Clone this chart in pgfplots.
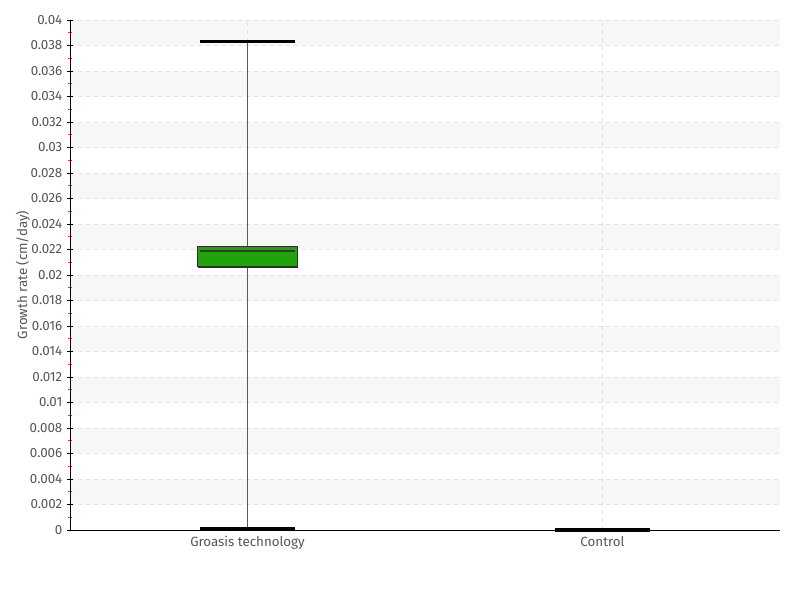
\documentclass[border=0pt]{standalone}
\usepackage{fontspec}
\setmainfont{Fira Sans}
\usepackage{pgfplots}
\pgfplotsset{compat=1.18}
\definecolor{txt}{HTML}{555555}
\definecolor{band}{HTML}{F7F7F7}
\definecolor{gridc}{HTML}{E2E2E2}
\definecolor{boxgreen}{HTML}{21A30C}
\definecolor{boxedge}{HTML}{2A3327}
\definecolor{whisk}{HTML}{5A5A5A}
\begin{document}
\begin{tikzpicture}
\begin{axis}[
  set layers,
  clip=false,
  scale only axis,
  width=532.5pt, height=382.5pt,
  xmin=-0.5, xmax=1.5, ymin=0, ymax=0.04,
  axis x line*=bottom, axis y line*=left,
  axis line style={black, line width=0.7pt},
  xtick={0,1}, xticklabels={Groasis technology, Control},
  ytick={0,0.002,0.004,0.006,0.008,0.01,0.012,0.014,0.016,0.018,0.02,0.022,0.024,0.026,0.028,0.03,0.032,0.034,0.036,0.038,0.04},
  minor y tick num=1,
  scaled y ticks=false,
  /pgf/number format/fixed, /pgf/number format/precision=3,
  /pgf/number format/assume math mode=true,
  tick label style={font=\fontsize{10}{12}\selectfont, text=txt},
  x tick label style={yshift=1pt},
  ylabel={Growth rate (cm/day)},
  ylabel style={font=\fontsize{10}{12}\selectfont, text=txt, yshift=-7pt},
  grid=major,
  major grid style={gridc, dashed, line width=0.6pt},
  tick align=center,
  major tick length=4.5pt,
  minor tick length=3.5pt,
  y tick style={black, line width=0.6pt},
  minor y tick style={red!85, line width=0.7pt},
  x tick style={draw=none},
]
% alternating background bands
\addplot[on layer=axis background, fill=band, draw=none, forget plot] coordinates {(-0.5,0.002) (1.5,0.002) (1.5,0.004) (-0.5,0.004) (-0.5,0.002)};
\addplot[on layer=axis background, fill=band, draw=none, forget plot] coordinates {(-0.5,0.006) (1.5,0.006) (1.5,0.008) (-0.5,0.008) (-0.5,0.006)};
\addplot[on layer=axis background, fill=band, draw=none, forget plot] coordinates {(-0.5,0.010) (1.5,0.010) (1.5,0.012) (-0.5,0.012) (-0.5,0.010)};
\addplot[on layer=axis background, fill=band, draw=none, forget plot] coordinates {(-0.5,0.014) (1.5,0.014) (1.5,0.016) (-0.5,0.016) (-0.5,0.014)};
\addplot[on layer=axis background, fill=band, draw=none, forget plot] coordinates {(-0.5,0.018) (1.5,0.018) (1.5,0.020) (-0.5,0.020) (-0.5,0.018)};
\addplot[on layer=axis background, fill=band, draw=none, forget plot] coordinates {(-0.5,0.022) (1.5,0.022) (1.5,0.024) (-0.5,0.024) (-0.5,0.022)};
\addplot[on layer=axis background, fill=band, draw=none, forget plot] coordinates {(-0.5,0.026) (1.5,0.026) (1.5,0.028) (-0.5,0.028) (-0.5,0.026)};
\addplot[on layer=axis background, fill=band, draw=none, forget plot] coordinates {(-0.5,0.030) (1.5,0.030) (1.5,0.032) (-0.5,0.032) (-0.5,0.030)};
\addplot[on layer=axis background, fill=band, draw=none, forget plot] coordinates {(-0.5,0.034) (1.5,0.034) (1.5,0.036) (-0.5,0.036) (-0.5,0.034)};
\addplot[on layer=axis background, fill=band, draw=none, forget plot] coordinates {(-0.5,0.038) (1.5,0.038) (1.5,0.040) (-0.5,0.040) (-0.5,0.038)};
% Groasis technology: whisker 0 .. 0.03835, box 0.02063 .. 0.02227, median 0.02188
\addplot[whisk, line width=1.2pt, forget plot] coordinates {(0,0) (0,0.03835)};
\addplot[fill=boxgreen, draw=boxedge, line width=0.8pt, forget plot] coordinates {(-0.14,0.02063) (0.14,0.02063) (0.14,0.02227) (-0.14,0.02227) (-0.14,0.02063)};
\addplot[draw=boxedge!85!boxgreen, line width=1pt, forget plot] coordinates {(-0.135,0.02188) (0.135,0.02188)};
\addplot[black, line width=2.2pt, forget plot] coordinates {(-0.133,0.03835) (0.133,0.03835)};
\addplot[black, line width=2.2pt, forget plot] coordinates {(-0.133,0.0001) (0.133,0.0001)};
% Control: all values 0
\addplot[black, line width=3.3pt, forget plot] coordinates {(0.867,0) (1.133,0)};
\end{axis}
\path (-52.5pt,-52.5pt) rectangle (547.5pt,397.5pt);
\end{tikzpicture}
\end{document}
